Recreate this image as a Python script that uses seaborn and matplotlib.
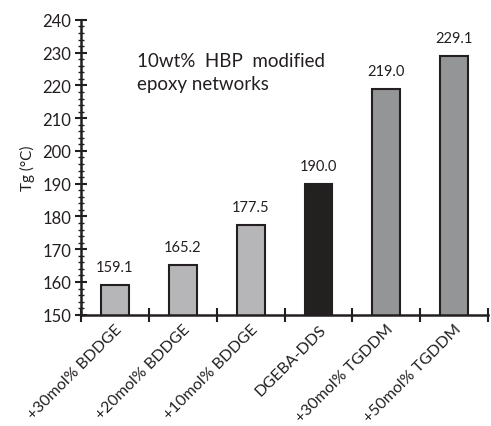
import matplotlib
matplotlib.use("Agg")
import matplotlib.pyplot as plt
import seaborn as sns
import pandas as pd
from matplotlib.ticker import MultipleLocator, FixedLocator

categories = ["+30mol% BDDGE", "+20mol% BDDGE", "+10mol% BDDGE",
              "DGEBA-DDS", "+30mol% TGDDM", "+50mol% TGDDM"]
tg_values = [159.1, 165.2, 177.5, 190.0, 219.0, 229.1]
bar_colors = ["#b5b6ba", "#b5b6ba", "#b5b6ba", "#231f20", "#939598", "#939598"]

sns.set_theme(style="white")
plt.rcParams['font.family'] = ['Lato', 'DejaVu Sans']

df = pd.DataFrame({"cat": categories, "tg": tg_values})

fig = plt.figure(figsize=(4.91, 4.27), dpi=100)
ax = fig.add_axes([0.165, 0.2606, 0.829, 0.6904])

sns.barplot(data=df, x="cat", y="tg", hue="cat", order=categories,
            hue_order=categories, palette=bar_colors, legend=False,
            width=0.41, edgecolor="#231f20", linewidth=1.5, ax=ax,
            bottom=0)

ax.set_ylim(150, 240)
ax.set_xlim(-0.5, len(categories) - 0.5)

for i, v in enumerate(tg_values):
    ax.annotate(f"{v:.1f}", xy=(i, v), xytext=(0, 8), textcoords="offset points",
                ha="center", va="bottom", fontsize=10.5, color="#231f20")

ax.yaxis.set_major_locator(MultipleLocator(10))
ax.yaxis.set_minor_locator(MultipleLocator(2))
ax.tick_params(axis="y", which="major", direction="inout", length=8, width=1.5,
               labelsize=12, colors="#231f20", left=True, pad=3)
ax.tick_params(axis="y", which="minor", direction="inout", length=4, width=1.0,
               colors="#231f20", left=True)

ax.xaxis.set_major_locator(FixedLocator(range(len(categories))))
ax.set_xticks(range(len(categories)))
ax.set_xticklabels(categories, rotation=45, ha="right", rotation_mode="anchor",
                   fontsize=11.5, color="#231f20")
ax.xaxis.set_minor_locator(FixedLocator([i + 0.5 for i in range(-1, len(categories))]))
ax.tick_params(axis="x", which="major", direction="in", length=3, width=1.2,
               colors="#231f20", bottom=True, pad=5)
ax.tick_params(axis="x", which="minor", direction="inout", length=10, width=1.5,
               colors="#231f20", bottom=True)

for s in ["top", "right"]:
    ax.spines[s].set_visible(False)
for s in ["left", "bottom"]:
    ax.spines[s].set_color("#231f20")
    ax.spines[s].set_linewidth(1.8)

ax.set_xlabel("")
ax.set_ylabel("Tg (°C)", fontsize=11, color="#231f20", labelpad=5)

ax.text(0.138, 0.89, "10wt%  HBP  modified\nepoxy networks", transform=ax.transAxes,
        fontsize=13.5, color="#231f20", ha="left", va="top", linespacing=1.4)

fig.savefig("out.png", dpi=100)
